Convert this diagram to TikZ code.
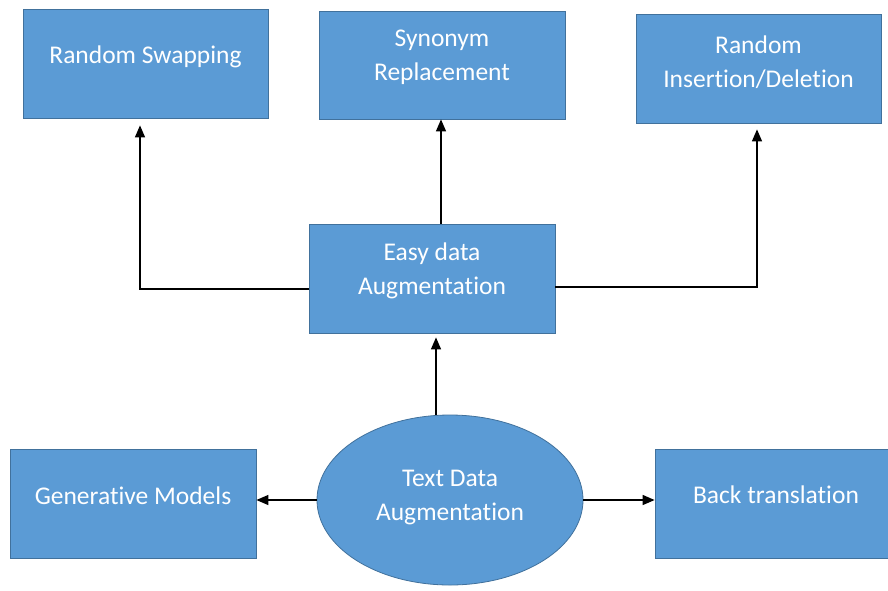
\documentclass[tikz,border=0pt]{standalone}
\usepackage{fontspec}
\setmainfont{Carlito}[Ligatures=NoCommon]
\usetikzlibrary{arrows.meta,shapes.geometric}
\definecolor{boxblue}{HTML}{5B9BD5}
\definecolor{boxedge}{HTML}{41719C}
\tikzset{
  box/.style={draw=boxedge, fill=boxblue, line width=0.8pt, minimum width=245pt, minimum height=109pt, inner sep=0pt},
  lbl/.style={text=white, align=center, font=\fontsize{25.5}{34}\selectfont, inner sep=0pt},
  conn/.style={line width=1.4pt, -{Triangle[length=12pt,width=10pt]}}
}
\begin{document}
\begin{tikzpicture}[x=1pt, y=-1pt]
      \useasboundingbox (0,0) rectangle (888,590);
      \clip (0,0) rectangle (888,590);
      \fill[white] (0,0) rectangle (888,590);

      % top row
      \node (rs)  at (145.5, 63.5) [box] {};
      \node (sr)  at (442,   65)   [box, minimum width=246pt, minimum height=108pt] {};
      \node (rid) at (758.5, 68.5) [box] {};
      \node (rsT)  at (145.5, 57)   [lbl] {Random Swapping};
      \node (srT)  at (442,   57.5) [lbl] {Synonym\\Replacement};
      \node (ridT) at (758.5, 62)   [lbl] {Random\\Insertion/Deletion};

      % middle
      \node (eda)  at (432, 278.5) [box, minimum width=246pt] {};
      \node (edaT) at (432, 271)   [lbl] {Easy data\\Augmentation};

      % bottom row
      \node (tda) at (450, 500) [ellipse, draw=boxedge, fill=boxblue, line width=0.8pt,
                                 minimum width=266pt, minimum height=170pt, inner sep=0pt] {};
      \node (tdaT) at (450, 497) [lbl] {Text Data\\Augmentation};
      \node (gm)  at (133,   503.5) [box, minimum width=246pt] {};
      \node (bt)  at (777.5, 503.5) [box] {};
      \node (gmT) at (133, 496) [lbl] {Generative Models};
      \node (btT) at (776, 495) [lbl] {Back translation};

      % connectors
      \draw[conn, shorten >=4pt] ([xshift=-14pt]tda.north) -- ([xshift=4pt]eda.south);
      \draw[conn] ([xshift=9pt]eda.north) -- ([xshift=-1pt]sr.south);
      \draw[conn, shorten >=7pt] ([yshift=-10.5pt]eda.west) -| ([xshift=-5.5pt]rs.south);
      \draw[conn, shorten >=6pt] ([yshift=-8.5pt]eda.east) -| ([xshift=-1.5pt]rid.south);
      \draw[conn] (tda.west) -- (tda.west -| gm.east);
      \draw[conn] (tda.east) -- (tda.east -| bt.west);
\end{tikzpicture}
\end{document}
